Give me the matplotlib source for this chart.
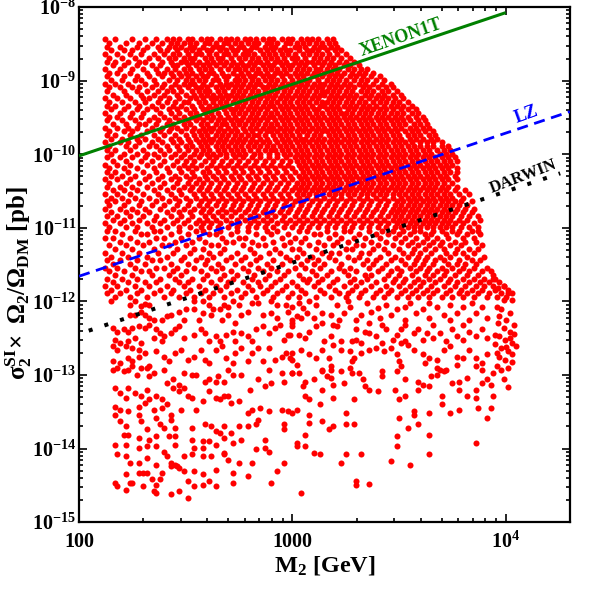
import matplotlib
matplotlib.use('Agg')
import matplotlib.pyplot as plt
import numpy as np
from matplotlib.ticker import FixedLocator, FixedFormatter, LogLocator, NullFormatter

plt.rcParams['font.family'] = ['Liberation Serif', 'DejaVu Serif']
plt.rcParams['font.weight'] = 'bold'
plt.rcParams['mathtext.fontset'] = 'custom'
plt.rcParams['mathtext.rm'] = 'Liberation Serif:bold'
plt.rcParams['mathtext.it'] = 'Liberation Serif:italic:bold'
plt.rcParams['mathtext.bf'] = 'Liberation Serif:bold'
plt.rcParams['mathtext.default'] = 'rm'

# ---------------- data (log10 M2 [GeV], log10 sigma*Omega/Omega_DM [pb]) ----------------
# dense top part of the scan, read row by row
top_rows_log_sigma = [-8.44, -8.49, -8.54, -8.59, -8.64, -8.69, -8.74, -8.79, -8.84, -8.89, -8.94,
                      -8.99, -9.04, -9.09, -9.14, -9.19, -9.24, -9.29, -9.34, -9.39, -9.44, -9.49,
                      -9.54, -9.59, -9.64, -9.69, -9.74, -9.79, -9.84, -9.89, -9.94, -9.99]
top_rows_log_m2 = [
    [2.12, 2.17, 2.25, 2.31, 2.36, 2.41, 2.44, 2.47, 2.51, 2.53, 2.57, 2.60, 2.62, 2.66, 2.69, 2.71, 2.74, 2.78, 2.80, 2.83, 2.86, 2.89, 2.91, 2.95, 2.98, 3.00, 3.04, 3.07, 3.09, 3.12, 3.16, 3.19],
    [2.14, 2.22, 2.28, 2.34, 2.39, 2.43, 2.46, 2.49, 2.52, 2.55, 2.59, 2.61, 2.64, 2.68, 2.70, 2.73, 2.76, 2.79, 2.82, 2.84, 2.88, 2.90, 2.93, 2.97, 2.99, 3.02, 3.05, 3.08, 3.11, 3.14, 3.17, 3.20],
    [2.13, 2.19, 2.27, 2.32, 2.37, 2.42, 2.45, 2.48, 2.52, 2.54, 2.58, 2.63, 2.65, 2.67, 2.71, 2.75, 2.77, 2.81, 2.83, 2.87, 2.90, 2.92, 2.96, 3.01, 3.03, 3.06, 3.10, 3.13, 3.15, 3.18, 3.21],
    [2.15, 2.21, 2.25, 2.30, 2.38, 2.41, 2.46, 2.50, 2.53, 2.56, 2.60, 2.62, 2.66, 2.69, 2.72, 2.74, 2.78, 2.80, 2.85, 2.88, 2.91, 2.94, 2.97, 2.99, 3.03, 3.07, 3.09, 3.12, 3.16, 3.20, 3.23],
    [2.12, 2.18, 2.24, 2.29, 2.35, 2.40, 2.44, 2.47, 2.51, 2.55, 2.57, 2.61, 2.64, 2.68, 2.70, 2.73, 2.77, 2.79, 2.82, 2.86, 2.89, 2.92, 2.95, 2.98, 3.01, 3.05, 3.08, 3.11, 3.14, 3.17, 3.21, 3.25],
    [2.14, 2.20, 2.26, 2.33, 2.37, 2.42, 2.45, 2.49, 2.52, 2.54, 2.59, 2.62, 2.65, 2.67, 2.71, 2.75, 2.78, 2.81, 2.84, 2.87, 2.90, 2.93, 2.96, 3.00, 3.02, 3.06, 3.10, 3.13, 3.16, 3.19, 3.23, 3.27],
    [2.13, 2.17, 2.23, 2.28, 2.31, 2.39, 2.43, 2.48, 2.50, 2.53, 2.56, 2.60, 2.63, 2.66, 2.69, 2.72, 2.76, 2.80, 2.83, 2.85, 2.88, 2.92, 2.94, 2.97, 3.01, 3.04, 3.07, 3.09, 3.12, 3.15, 3.18, 3.22, 3.25, 3.29],
    [2.16, 2.21, 2.27, 2.34, 2.38, 2.44, 2.46, 2.51, 2.55, 2.58, 2.61, 2.64, 2.68, 2.71, 2.74, 2.77, 2.79, 2.82, 2.86, 2.89, 2.91, 2.95, 2.98, 3.00, 3.03, 3.06, 3.10, 3.14, 3.17, 3.20, 3.24, 3.27, 3.31],
    [2.12, 2.19, 2.25, 2.30, 2.36, 2.41, 2.45, 2.49, 2.52, 2.56, 2.59, 2.62, 2.66, 2.70, 2.73, 2.75, 2.78, 2.81, 2.84, 2.87, 2.90, 2.93, 2.96, 2.99, 3.02, 3.05, 3.08, 3.11, 3.13, 3.16, 3.19, 3.22, 3.26, 3.29, 3.32, 3.35],
    [2.14, 2.18, 2.24, 2.32, 2.37, 2.40, 2.43, 2.47, 2.50, 2.53, 2.57, 2.61, 2.63, 2.67, 2.72, 2.76, 2.79, 2.83, 2.85, 2.88, 2.92, 2.94, 2.97, 3.01, 3.04, 3.07, 3.10, 3.12, 3.15, 3.18, 3.21, 3.24, 3.28, 3.31, 3.34, 3.38],
    [2.13, 2.21, 2.27, 2.33, 2.39, 2.44, 2.48, 2.51, 2.55, 2.58, 2.60, 2.64, 2.68, 2.70, 2.74, 2.77, 2.80, 2.82, 2.86, 2.89, 2.91, 2.95, 2.99, 3.02, 3.05, 3.09, 3.11, 3.14, 3.17, 3.20, 3.23, 3.27, 3.30, 3.33, 3.37, 3.41],
    [2.15, 2.20, 2.26, 2.29, 2.35, 2.42, 2.46, 2.50, 2.53, 2.56, 2.59, 2.63, 2.65, 2.69, 2.73, 2.75, 2.78, 2.81, 2.84, 2.87, 2.90, 2.93, 2.96, 3.00, 3.03, 3.06, 3.08, 3.12, 3.16, 3.19, 3.22, 3.25, 3.29, 3.32, 3.35, 3.39, 3.43],
    [2.12, 2.17, 2.23, 2.31, 2.36, 2.40, 2.45, 2.49, 2.52, 2.54, 2.58, 2.62, 2.66, 2.69, 2.71, 2.74, 2.77, 2.80, 2.83, 2.85, 2.89, 2.92, 2.95, 2.98, 3.01, 3.04, 3.07, 3.10, 3.13, 3.15, 3.18, 3.21, 3.24, 3.27, 3.31, 3.34, 3.38, 3.42, 3.46],
    [2.14, 2.19, 2.25, 2.28, 2.34, 2.39, 2.43, 2.47, 2.51, 2.55, 2.57, 2.60, 2.64, 2.67, 2.70, 2.73, 2.76, 2.79, 2.82, 2.86, 2.88, 2.91, 2.94, 2.97, 3.00, 3.03, 3.06, 3.09, 3.12, 3.14, 3.17, 3.20, 3.23, 3.26, 3.29, 3.33, 3.36, 3.40, 3.44, 3.47],
    [2.13, 2.21, 2.27, 2.32, 2.37, 2.41, 2.44, 2.48, 2.53, 2.56, 2.59, 2.61, 2.65, 2.68, 2.72, 2.75, 2.78, 2.81, 2.84, 2.87, 2.90, 2.93, 2.96, 2.99, 3.02, 3.05, 3.08, 3.11, 3.14, 3.16, 3.19, 3.22, 3.25, 3.28, 3.32, 3.35, 3.38, 3.42, 3.45, 3.49],
    [2.16, 2.22, 2.29, 2.35, 2.40, 2.46, 2.50, 2.54, 2.57, 2.60, 2.63, 2.66, 2.69, 2.71, 2.74, 2.77, 2.80, 2.83, 2.86, 2.89, 2.92, 2.95, 2.98, 3.01, 3.04, 3.07, 3.10, 3.13, 3.15, 3.18, 3.21, 3.24, 3.27, 3.30, 3.34, 3.37, 3.40, 3.43, 3.47, 3.51],
    [2.12, 2.18, 2.24, 2.30, 2.33, 2.38, 2.42, 2.47, 2.52, 2.55, 2.58, 2.62, 2.64, 2.67, 2.70, 2.73, 2.76, 2.79, 2.82, 2.85, 2.88, 2.91, 2.94, 2.97, 3.00, 3.03, 3.06, 3.09, 3.12, 3.17, 3.20, 3.23, 3.26, 3.29, 3.32, 3.36, 3.39, 3.42, 3.45, 3.48, 3.52],
    [2.14, 2.20, 2.26, 2.31, 2.37, 2.41, 2.45, 2.49, 2.51, 2.56, 2.59, 2.63, 2.66, 2.69, 2.72, 2.75, 2.78, 2.81, 2.84, 2.87, 2.90, 2.93, 2.96, 2.99, 3.02, 3.05, 3.08, 3.11, 3.14, 3.16, 3.19, 3.22, 3.25, 3.28, 3.31, 3.34, 3.38, 3.41, 3.44, 3.47, 3.50, 3.54],
    [2.13, 2.17, 2.23, 2.28, 2.34, 2.39, 2.44, 2.48, 2.53, 2.57, 2.61, 2.64, 2.67, 2.70, 2.74, 2.77, 2.80, 2.83, 2.86, 2.89, 2.91, 2.94, 2.97, 3.00, 3.03, 3.06, 3.09, 3.13, 3.15, 3.18, 3.21, 3.24, 3.27, 3.30, 3.33, 3.36, 3.39, 3.43, 3.46, 3.49, 3.52, 3.56],
    [2.15, 2.21, 2.27, 2.32, 2.36, 2.42, 2.46, 2.50, 2.54, 2.58, 2.60, 2.63, 2.68, 2.71, 2.73, 2.76, 2.79, 2.82, 2.85, 2.88, 2.92, 2.95, 2.98, 3.01, 3.04, 3.07, 3.10, 3.12, 3.16, 3.19, 3.22, 3.26, 3.29, 3.32, 3.35, 3.38, 3.41, 3.44, 3.47, 3.51, 3.54, 3.58],
    [2.12, 2.19, 2.25, 2.30, 2.38, 2.43, 2.47, 2.52, 2.55, 2.59, 2.62, 2.65, 2.69, 2.72, 2.75, 2.78, 2.81, 2.84, 2.87, 2.90, 2.93, 2.96, 2.99, 3.02, 3.05, 3.08, 3.11, 3.14, 3.17, 3.20, 3.23, 3.25, 3.28, 3.31, 3.34, 3.37, 3.40, 3.43, 3.46, 3.49, 3.52, 3.56, 3.59],
    [2.14, 2.18, 2.24, 2.29, 2.35, 2.40, 2.45, 2.49, 2.53, 2.56, 2.60, 2.63, 2.66, 2.70, 2.73, 2.77, 2.80, 2.83, 2.86, 2.89, 2.91, 2.94, 2.97, 3.00, 3.03, 3.06, 3.09, 3.12, 3.15, 3.18, 3.21, 3.24, 3.27, 3.30, 3.33, 3.36, 3.39, 3.42, 3.45, 3.48, 3.51, 3.54, 3.58, 3.61],
    [2.13, 2.20, 2.26, 2.33, 2.37, 2.42, 2.47, 2.51, 2.55, 2.58, 2.62, 2.65, 2.68, 2.71, 2.74, 2.76, 2.79, 2.82, 2.85, 2.88, 2.92, 2.95, 2.98, 3.01, 3.04, 3.07, 3.10, 3.13, 3.16, 3.19, 3.22, 3.25, 3.28, 3.31, 3.34, 3.37, 3.40, 3.43, 3.46, 3.49, 3.52, 3.55, 3.59, 3.62],
    [2.16, 2.22, 2.28, 2.31, 2.36, 2.41, 2.44, 2.49, 2.52, 2.57, 2.60, 2.64, 2.67, 2.69, 2.72, 2.75, 2.78, 2.81, 2.84, 2.87, 2.90, 2.93, 2.96, 2.99, 3.02, 3.05, 3.08, 3.11, 3.14, 3.17, 3.20, 3.23, 3.26, 3.29, 3.32, 3.35, 3.38, 3.41, 3.44, 3.47, 3.50, 3.53, 3.57, 3.60, 3.63],
    [2.12, 2.18, 2.23, 2.27, 2.34, 2.39, 2.43, 2.46, 2.50, 2.54, 2.58, 2.61, 2.63, 2.66, 2.70, 2.73, 2.77, 2.80, 2.83, 2.86, 2.89, 2.91, 2.94, 2.97, 3.00, 3.03, 3.06, 3.09, 3.12, 3.15, 3.18, 3.21, 3.24, 3.27, 3.30, 3.33, 3.36, 3.39, 3.42, 3.45, 3.48, 3.51, 3.55, 3.58, 3.61, 3.64],
    [2.14, 2.21, 2.25, 2.32, 2.38, 2.42, 2.48, 2.53, 2.56, 2.59, 2.62, 2.65, 2.68, 2.71, 2.74, 2.78, 2.81, 2.85, 2.88, 2.90, 2.93, 2.96, 2.99, 3.02, 3.05, 3.08, 3.11, 3.14, 3.16, 3.19, 3.22, 3.25, 3.28, 3.31, 3.34, 3.37, 3.40, 3.43, 3.46, 3.49, 3.53, 3.56, 3.59, 3.62, 3.66],
    [2.13, 2.17, 2.24, 2.29, 2.35, 2.40, 2.45, 2.50, 2.54, 2.57, 2.60, 2.64, 2.67, 2.70, 2.73, 2.76, 2.79, 2.82, 2.84, 2.87, 2.91, 2.94, 2.97, 3.00, 3.03, 3.07, 3.10, 3.13, 3.17, 3.20, 3.23, 3.26, 3.29, 3.32, 3.35, 3.38, 3.41, 3.44, 3.47, 3.50, 3.54, 3.57, 3.60, 3.64, 3.67],
    [2.15, 2.20, 2.27, 2.31, 2.37, 2.43, 2.47, 2.51, 2.55, 2.58, 2.61, 2.63, 2.66, 2.69, 2.72, 2.75, 2.78, 2.81, 2.85, 2.88, 2.92, 2.95, 2.98, 3.01, 3.04, 3.06, 3.09, 3.12, 3.15, 3.18, 3.21, 3.24, 3.27, 3.30, 3.33, 3.36, 3.39, 3.42, 3.45, 3.48, 3.51, 3.55, 3.58, 3.61, 3.65, 3.68],
    [2.12, 2.19, 2.23, 2.28, 2.34, 2.39, 2.44, 2.48, 2.52, 2.56, 2.59, 2.62, 2.65, 2.68, 2.71, 2.74, 2.77, 2.80, 2.83, 2.86, 2.89, 2.93, 2.96, 2.99, 3.02, 3.05, 3.08, 3.11, 3.14, 3.17, 3.20, 3.23, 3.26, 3.29, 3.32, 3.35, 3.38, 3.41, 3.44, 3.47, 3.50, 3.53, 3.56, 3.60, 3.63, 3.66, 3.70],
    [2.14, 2.22, 2.26, 2.33, 2.36, 2.41, 2.46, 2.50, 2.53, 2.57, 2.60, 2.64, 2.67, 2.70, 2.73, 2.76, 2.79, 2.82, 2.85, 2.88, 2.91, 2.94, 2.97, 3.00, 3.03, 3.06, 3.09, 3.12, 3.15, 3.18, 3.21, 3.24, 3.27, 3.30, 3.33, 3.36, 3.39, 3.42, 3.45, 3.48, 3.51, 3.54, 3.57, 3.60, 3.63, 3.66, 3.70, 3.73],
    [2.13, 2.17, 2.24, 2.30, 2.38, 2.42, 2.47, 2.51, 2.55, 2.58, 2.61, 2.65, 2.68, 2.71, 2.74, 2.77, 2.80, 2.84, 2.87, 2.90, 2.92, 2.95, 2.98, 3.01, 3.04, 3.07, 3.10, 3.13, 3.16, 3.19, 3.22, 3.25, 3.28, 3.31, 3.34, 3.37, 3.40, 3.43, 3.46, 3.49, 3.52, 3.55, 3.58, 3.61, 3.64, 3.68, 3.71, 3.74],
    [2.15, 2.21, 2.27, 2.32, 2.35, 2.40, 2.45, 2.49, 2.54, 2.57, 2.60, 2.63, 2.66, 2.69, 2.72, 2.75, 2.78, 2.82, 2.85, 2.89, 2.93, 2.96, 2.99, 3.02, 3.05, 3.08, 3.11, 3.14, 3.17, 3.20, 3.23, 3.26, 3.29, 3.32, 3.35, 3.38, 3.41, 3.44, 3.47, 3.50, 3.53, 3.56, 3.59, 3.62, 3.65, 3.69, 3.72, 3.75],
]

# middle part of the scan (1e-10 .. 1e-11 pb), read row by row
middle_rows_log_sigma = [-10.04, -10.09, -10.14, -10.19, -10.24, -10.29, -10.34, -10.39, -10.44, -10.49,
                         -10.54, -10.59, -10.64, -10.69, -10.74, -10.79, -10.84, -10.89, -10.94, -10.99]
middle_rows_log_m2 = [
    [2.13, 2.19, 2.25, 2.31, 2.37, 2.43, 2.48, 2.52, 2.56, 2.61, 2.64, 2.69, 2.73, 2.77, 2.81, 2.85, 2.89, 2.93, 2.97, 3.01, 3.04, 3.07, 3.10, 3.13, 3.16, 3.19, 3.22, 3.25, 3.28, 3.31, 3.34, 3.37, 3.40, 3.43, 3.46, 3.49, 3.52, 3.55, 3.58, 3.61, 3.64, 3.67, 3.70, 3.73, 3.76],
    [2.16, 2.22, 2.29, 2.34, 2.40, 2.46, 2.50, 2.54, 2.59, 2.63, 2.67, 2.71, 2.75, 2.79, 2.83, 2.87, 2.91, 2.95, 2.99, 3.02, 3.05, 3.08, 3.11, 3.14, 3.17, 3.20, 3.23, 3.26, 3.29, 3.32, 3.35, 3.38, 3.41, 3.44, 3.47, 3.50, 3.53, 3.56, 3.59, 3.62, 3.65, 3.68, 3.71, 3.74, 3.77],
    [2.12, 2.18, 2.24, 2.32, 2.38, 2.44, 2.49, 2.53, 2.57, 2.62, 2.66, 2.70, 2.74, 2.78, 2.82, 2.86, 2.90, 2.94, 2.98, 3.03, 3.06, 3.09, 3.12, 3.15, 3.18, 3.21, 3.24, 3.27, 3.30, 3.33, 3.36, 3.39, 3.42, 3.45, 3.48, 3.51, 3.54, 3.57, 3.60, 3.63, 3.66, 3.69, 3.72, 3.75],
    [2.14, 2.21, 2.27, 2.35, 2.41, 2.47, 2.51, 2.55, 2.60, 2.64, 2.68, 2.72, 2.76, 2.80, 2.84, 2.88, 2.92, 2.96, 3.00, 3.04, 3.07, 3.10, 3.13, 3.16, 3.19, 3.22, 3.25, 3.28, 3.31, 3.34, 3.37, 3.40, 3.43, 3.46, 3.49, 3.52, 3.55, 3.58, 3.61, 3.64, 3.67, 3.70, 3.73, 3.77],
    [2.13, 2.17, 2.23, 2.30, 2.36, 2.42, 2.48, 2.53, 2.58, 2.61, 2.65, 2.69, 2.73, 2.77, 2.81, 2.85, 2.89, 2.93, 2.97, 3.01, 3.05, 3.08, 3.11, 3.14, 3.17, 3.20, 3.23, 3.26, 3.29, 3.32, 3.35, 3.38, 3.41, 3.44, 3.47, 3.50, 3.53, 3.56, 3.59, 3.62, 3.65, 3.68, 3.71, 3.74, 3.77],
    [2.15, 2.20, 2.26, 2.33, 2.39, 2.45, 2.50, 2.54, 2.59, 2.63, 2.67, 2.71, 2.75, 2.79, 2.83, 2.87, 2.91, 2.95, 2.99, 3.03, 3.06, 3.09, 3.12, 3.15, 3.18, 3.21, 3.24, 3.27, 3.30, 3.33, 3.36, 3.39, 3.42, 3.45, 3.48, 3.51, 3.54, 3.57, 3.60, 3.63, 3.66, 3.69, 3.72, 3.76],
    [2.12, 2.18, 2.24, 2.31, 2.37, 2.43, 2.47, 2.52, 2.56, 2.60, 2.64, 2.68, 2.72, 2.76, 2.80, 2.84, 2.88, 2.92, 2.96, 3.00, 3.04, 3.07, 3.10, 3.13, 3.16, 3.19, 3.22, 3.25, 3.28, 3.31, 3.34, 3.37, 3.40, 3.43, 3.46, 3.49, 3.52, 3.55, 3.58, 3.61, 3.64, 3.67, 3.70, 3.73, 3.77],
    [2.14, 2.22, 2.28, 2.34, 2.40, 2.46, 2.51, 2.55, 2.58, 2.62, 2.66, 2.70, 2.74, 2.78, 2.82, 2.86, 2.90, 2.94, 2.98, 3.02, 3.05, 3.08, 3.11, 3.14, 3.17, 3.20, 3.23, 3.26, 3.29, 3.32, 3.35, 3.38, 3.41, 3.44, 3.47, 3.50, 3.53, 3.56, 3.59, 3.62, 3.65, 3.68, 3.71, 3.75],
    [2.13, 2.19, 2.25, 2.32, 2.38, 2.44, 2.49, 2.53, 2.57, 2.61, 2.65, 2.69, 2.73, 2.77, 2.81, 2.85, 2.89, 2.93, 2.97, 3.01, 3.04, 3.07, 3.10, 3.13, 3.16, 3.19, 3.22, 3.25, 3.28, 3.31, 3.34, 3.37, 3.40, 3.43, 3.46, 3.49, 3.52, 3.55, 3.58, 3.61, 3.64, 3.67, 3.70, 3.73, 3.77],
    [2.16, 2.21, 2.27, 2.35, 2.41, 2.47, 2.52, 2.56, 2.60, 2.64, 2.68, 2.72, 2.76, 2.80, 2.84, 2.88, 2.92, 2.96, 3.00, 3.03, 3.06, 3.09, 3.12, 3.15, 3.18, 3.21, 3.24, 3.27, 3.30, 3.33, 3.36, 3.39, 3.42, 3.45, 3.48, 3.51, 3.54, 3.57, 3.60, 3.63, 3.66, 3.69, 3.72, 3.76, 3.81],
    [2.12, 2.18, 2.24, 2.30, 2.37, 2.43, 2.48, 2.54, 2.58, 2.62, 2.66, 2.70, 2.74, 2.78, 2.82, 2.86, 2.90, 2.94, 2.98, 3.02, 3.05, 3.08, 3.11, 3.14, 3.17, 3.20, 3.23, 3.26, 3.29, 3.32, 3.35, 3.38, 3.41, 3.44, 3.47, 3.50, 3.53, 3.56, 3.59, 3.62, 3.65, 3.68, 3.71, 3.74, 3.78, 3.83],
    [2.15, 2.20, 2.26, 2.33, 2.39, 2.45, 2.50, 2.55, 2.59, 2.63, 2.67, 2.71, 2.75, 2.79, 2.83, 2.87, 2.91, 2.95, 2.99, 3.03, 3.07, 3.11, 3.15, 3.19, 3.23, 3.27, 3.31, 3.35, 3.39, 3.43, 3.47, 3.51, 3.54, 3.57, 3.60, 3.63, 3.66, 3.69, 3.72, 3.75, 3.80],
    [2.13, 2.17, 2.23, 2.29, 2.36, 2.42, 2.47, 2.52, 2.57, 2.61, 2.65, 2.69, 2.73, 2.77, 2.81, 2.85, 2.89, 2.93, 2.97, 3.01, 3.05, 3.09, 3.13, 3.17, 3.21, 3.25, 3.29, 3.33, 3.37, 3.41, 3.45, 3.49, 3.52, 3.55, 3.58, 3.61, 3.64, 3.67, 3.70, 3.73, 3.76, 3.79, 3.84],
    [2.14, 2.21, 2.28, 2.34, 2.40, 2.46, 2.51, 2.56, 2.60, 2.64, 2.68, 2.72, 2.76, 2.80, 2.84, 2.88, 2.92, 2.96, 3.00, 3.04, 3.08, 3.12, 3.16, 3.20, 3.24, 3.28, 3.32, 3.36, 3.40, 3.44, 3.48, 3.51, 3.54, 3.57, 3.60, 3.63, 3.66, 3.69, 3.72, 3.75, 3.78, 3.82],
    [2.12, 2.19, 2.25, 2.31, 2.38, 2.44, 2.49, 2.54, 2.58, 2.62, 2.67, 2.71, 2.75, 2.79, 2.83, 2.87, 2.91, 2.95, 2.99, 3.03, 3.07, 3.11, 3.15, 3.19, 3.23, 3.27, 3.31, 3.35, 3.39, 3.43, 3.47, 3.50, 3.53, 3.56, 3.59, 3.62, 3.65, 3.68, 3.71, 3.74, 3.77, 3.81, 3.85],
    [2.15, 2.22, 2.27, 2.33, 2.41, 2.47, 2.52, 2.57, 2.61, 2.65, 2.69, 2.73, 2.78, 2.82, 2.86, 2.90, 2.94, 2.98, 3.02, 3.06, 3.10, 3.14, 3.18, 3.22, 3.26, 3.30, 3.34, 3.38, 3.42, 3.46, 3.49, 3.52, 3.55, 3.58, 3.61, 3.64, 3.67, 3.70, 3.73, 3.76, 3.80, 3.84],
    [2.13, 2.18, 2.24, 2.30, 2.36, 2.43, 2.48, 2.53, 2.59, 2.63, 2.67, 2.71, 2.76, 2.80, 2.84, 2.88, 2.92, 2.96, 3.01, 3.05, 3.09, 3.13, 3.17, 3.21, 3.25, 3.29, 3.33, 3.37, 3.41, 3.45, 3.48, 3.51, 3.54, 3.57, 3.60, 3.63, 3.66, 3.69, 3.72, 3.75, 3.79, 3.83, 3.87],
    [2.16, 2.21, 2.28, 2.35, 2.40, 2.46, 2.51, 2.56, 2.60, 2.64, 2.69, 2.74, 2.78, 2.82, 2.86, 2.90, 2.95, 2.99, 3.03, 3.07, 3.11, 3.15, 3.19, 3.23, 3.27, 3.31, 3.35, 3.39, 3.43, 3.47, 3.50, 3.53, 3.56, 3.59, 3.62, 3.65, 3.68, 3.71, 3.74, 3.78, 3.82, 3.88],
    [2.12, 2.19, 2.25, 2.32, 2.38, 2.44, 2.49, 2.55, 2.58, 2.62, 2.66, 2.71, 2.75, 2.80, 2.84, 2.88, 2.93, 2.97, 3.01, 3.05, 3.09, 3.13, 3.17, 3.21, 3.25, 3.29, 3.33, 3.37, 3.41, 3.45, 3.49, 3.52, 3.55, 3.58, 3.61, 3.64, 3.67, 3.70, 3.73, 3.76, 3.80, 3.85],
    [2.14, 2.22, 2.27, 2.34, 2.41, 2.47, 2.52, 2.57, 2.61, 2.65, 2.70, 2.74, 2.79, 2.83, 2.87, 2.91, 2.96, 3.00, 3.04, 3.08, 3.12, 3.16, 3.20, 3.24, 3.28, 3.32, 3.36, 3.40, 3.44, 3.48, 3.51, 3.54, 3.57, 3.60, 3.63, 3.66, 3.69, 3.72, 3.75, 3.79, 3.83, 3.87],
]

# sparser part of the scan (1e-11 .. 1e-12 pb), read row by row
lower_rows_log_sigma = [-11.04, -11.09, -11.14, -11.19, -11.24, -11.29, -11.34, -11.39, -11.44, -11.49,
                        -11.54, -11.59, -11.64, -11.69, -11.74, -11.79, -11.84, -11.89, -11.94]
lower_rows_log_m2 = [
    [2.13, 2.17, 2.26, 2.35, 2.38, 2.47, 2.55, 2.58, 2.66, 2.74, 2.79, 2.88, 2.93, 3.03, 3.07, 3.16, 3.24, 3.27, 3.36, 3.42, 3.47, 3.52, 3.57, 3.60, 3.66, 3.70, 3.75, 3.78, 3.84, 3.87],
    [2.20, 2.29, 2.32, 2.43, 2.51, 2.61, 2.64, 2.71, 2.83, 2.90, 2.98, 3.10, 3.13, 3.20, 3.31, 3.39, 3.45, 3.50, 3.55, 3.62, 3.65, 3.72, 3.77, 3.82, 3.88],
    [2.12, 2.16, 2.24, 2.36, 2.40, 2.48, 2.56, 2.67, 2.75, 2.78, 2.86, 2.95, 3.01, 3.06, 3.17, 3.23, 3.29, 3.34, 3.41, 3.48, 3.53, 3.58, 3.63, 3.68, 3.73, 3.80, 3.85],
    [2.19, 2.27, 2.33, 2.45, 2.53, 2.59, 2.69, 2.72, 2.81, 2.91, 2.99, 3.04, 3.12, 3.21, 3.26, 3.37, 3.44, 3.51, 3.56, 3.61, 3.66, 3.70, 3.76, 3.81, 3.86],
    [2.14, 2.22, 2.30, 2.39, 2.42, 2.50, 2.62, 2.65, 2.77, 2.84, 2.87, 2.96, 3.08, 3.15, 3.19, 3.30, 3.33, 3.40, 3.47, 3.54, 3.59, 3.64, 3.69, 3.74, 3.79, 3.89],
    [2.17, 2.25, 2.35, 2.46, 2.54, 2.58, 2.68, 2.80, 2.92, 3.00, 3.03, 3.11, 3.25, 3.28, 3.38, 3.43, 3.50, 3.57, 3.62, 3.67, 3.71, 3.77, 3.83, 3.87],
    [2.12, 2.20, 2.28, 2.37, 2.44, 2.52, 2.61, 2.66, 2.74, 2.82, 2.89, 2.94, 3.05, 3.14, 3.18, 3.22, 3.32, 3.36, 3.45, 3.52, 3.56, 3.60, 3.65, 3.72, 3.76, 3.80, 3.85],
    [2.15, 2.23, 2.32, 2.41, 2.49, 2.57, 2.63, 2.71, 2.78, 2.85, 2.97, 3.02, 3.09, 3.17, 3.26, 3.31, 3.41, 3.48, 3.54, 3.59, 3.63, 3.69, 3.74, 3.82, 3.90],
    [2.13, 2.19, 2.27, 2.34, 2.38, 2.48, 2.55, 2.60, 2.69, 2.76, 2.83, 2.91, 2.99, 3.07, 3.12, 3.20, 3.29, 3.35, 3.39, 3.46, 3.51, 3.58, 3.62, 3.67, 3.71, 3.78, 3.84, 3.88],
    [2.16, 2.24, 2.31, 2.43, 2.51, 2.59, 2.65, 2.73, 2.80, 2.88, 2.95, 3.04, 3.10, 3.15, 3.23, 3.33, 3.38, 3.44, 3.53, 3.57, 3.61, 3.66, 3.73, 3.77, 3.81, 3.86],
    [2.12, 2.18, 2.26, 2.36, 2.40, 2.46, 2.54, 2.62, 2.67, 2.77, 2.84, 2.90, 3.01, 3.06, 3.13, 3.22, 3.27, 3.36, 3.42, 3.49, 3.55, 3.60, 3.64, 3.70, 3.75, 3.80, 3.85, 3.91],
    [2.14, 2.21, 2.29, 2.33, 2.44, 2.50, 2.57, 2.64, 2.71, 2.79, 2.86, 2.93, 2.98, 3.09, 3.18, 3.24, 3.30, 3.40, 3.46, 3.51, 3.58, 3.63, 3.68, 3.72, 3.78, 3.83, 3.89, 3.93],
    [2.17, 2.25, 2.34, 2.42, 2.48, 2.60, 2.68, 2.74, 2.82, 2.89, 2.96, 3.03, 3.11, 3.16, 3.26, 3.34, 3.37, 3.45, 3.50, 3.56, 3.62, 3.66, 3.71, 3.76, 3.82, 3.87, 3.94],
    [2.13, 2.20, 2.27, 2.38, 2.45, 2.53, 2.58, 2.66, 2.72, 2.81, 2.87, 2.94, 3.05, 3.08, 3.14, 3.21, 3.29, 3.35, 3.43, 3.48, 3.53, 3.59, 3.64, 3.69, 3.74, 3.80, 3.85, 3.90, 3.95],
    [2.16, 2.23, 2.31, 2.36, 2.47, 2.51, 2.62, 2.70, 2.77, 2.84, 2.92, 3.00, 3.07, 3.12, 3.19, 3.27, 3.32, 3.39, 3.47, 3.52, 3.57, 3.61, 3.67, 3.73, 3.77, 3.83, 3.88, 3.92, 3.97],
    [2.12, 2.18, 2.26, 2.33, 2.41, 2.49, 2.56, 2.64, 2.69, 2.79, 2.85, 2.90, 2.97, 3.02, 3.10, 3.17, 3.24, 3.30, 3.37, 3.44, 3.50, 3.55, 3.60, 3.65, 3.71, 3.76, 3.81, 3.86, 3.90, 3.94, 3.99],
    [2.15, 2.22, 2.29, 2.38, 2.44, 2.52, 2.59, 2.66, 2.74, 2.81, 2.88, 2.95, 3.04, 3.13, 3.20, 3.28, 3.34, 3.41, 3.46, 3.53, 3.58, 3.63, 3.68, 3.74, 3.79, 3.84, 3.89, 3.95, 4.01],
    [2.13, 2.19, 2.27, 2.35, 2.43, 2.50, 2.57, 2.63, 2.71, 2.78, 2.86, 2.93, 3.00, 3.06, 3.15, 3.22, 3.26, 3.32, 3.39, 3.45, 3.51, 3.56, 3.61, 3.66, 3.72, 3.78, 3.82, 3.87, 3.92, 3.98, 4.03],
    [2.17, 2.24, 2.32, 2.40, 2.47, 2.54, 2.61, 2.68, 2.76, 2.83, 2.91, 2.98, 3.03, 3.11, 3.18, 3.25, 3.31, 3.38, 3.43, 3.49, 3.54, 3.59, 3.64, 3.70, 3.75, 3.80, 3.85, 3.91, 3.96, 4.00],
]

# sparse bottom part of the scan, point by point (log10 M2, log10 sigma)
bottom_left_points = [
    (2.15,-12.00),(2.24,-12.05),(2.26,-12.00),(2.29,-12.06),(2.31,-12.03),(2.33,-12.05),(2.29,-12.15),(2.31,-12.18),(2.26,-12.18),(2.24,-12.18),(2.33,-12.23),(2.35,-12.25),(2.39,-12.25),(2.41,-12.20),(2.43,-12.18),(2.47,-12.14),(2.50,-12.11),(2.49,-12.25),(2.54,-12.00),(2.58,-12.00),(2.54,-12.11),(2.58,-12.16),(2.61,-12.05),(2.63,-12.11),(2.62,-12.18),(2.66,-12.11),(2.68,-12.05),(2.70,-12.07),(2.72,-12.00),(2.75,-12.05),(2.76,-12.18),(2.79,-12.14),(2.81,-12.02),(2.84,-12.02),(2.86,-12.18),(2.90,-12.00),(2.90,-12.16),(2.93,-12.05),(2.93,-12.23),(2.97,-12.05),(2.98,-12.14),(3.00,-12.25),(2.70,-12.18),(2.73,-12.29),(2.67,-12.25),(2.56,-12.25),
    (2.16,-12.36),(2.18,-12.41),(2.21,-12.38),(2.23,-12.41),(2.25,-12.36),(2.28,-12.34),(2.31,-12.36),(2.33,-12.32),(2.36,-12.38),(2.38,-12.43),(2.40,-12.47),(2.43,-12.43),(2.45,-12.38),(2.49,-12.50),(2.47,-12.34),(2.54,-12.45),(2.57,-12.38),(2.59,-12.43),(2.61,-12.54),(2.64,-12.47),(2.66,-12.54),(2.69,-12.45),(2.72,-12.41),(2.73,-12.54),(2.76,-12.43),(2.79,-12.47),(2.81,-12.54),(2.83,-12.38),(2.86,-12.34),(2.89,-12.43),(2.92,-12.36),(2.94,-12.32),(2.96,-12.52),(2.98,-12.45),(3.00,-12.34),(2.17,-12.52),(2.19,-12.57),(2.23,-12.54),(2.26,-12.50),(2.29,-12.57),(2.35,-12.50),(2.39,-12.54),
    (2.16,-12.61),(2.18,-12.66),(2.22,-12.61),(2.25,-12.63),(2.28,-12.66),(2.31,-12.70),(2.36,-12.68),(2.40,-12.75),(2.42,-12.81),(2.45,-12.70),(2.48,-12.66),(2.51,-12.79),(2.54,-12.75),(2.57,-12.66),(2.59,-12.79),(2.61,-12.84),(2.64,-12.66),(2.67,-12.61),(2.69,-12.77),(2.72,-12.84),(2.73,-12.70),(2.76,-12.63),(2.79,-12.81),(2.81,-12.70),(2.84,-12.63),(2.86,-12.81),(2.89,-12.63),(2.92,-12.79),(2.95,-12.75),(2.97,-12.70),(3.00,-12.79),(2.16,-12.81),(2.19,-12.84),(2.23,-12.77),(2.25,-12.81),(2.28,-12.75),(2.33,-12.88),
    (2.16,-12.93),(2.18,-12.90),(2.21,-12.95),(2.23,-12.93),(2.25,-12.88),(2.27,-13.00),(2.29,-12.90),(2.32,-12.90),(2.33,-13.02),(2.35,-12.97),(2.40,-12.93),(2.41,-13.11),(2.44,-13.06),(2.47,-13.13),(2.49,-12.97),(2.53,-13.00),(2.55,-13.00),(2.59,-13.09),(2.61,-13.06),(2.64,-13.09),(2.65,-13.02),(2.68,-13.09),(2.70,-12.93),(2.72,-13.00),(2.76,-13.00),(2.80,-13.20),(2.84,-13.06),(2.87,-13.15),(2.89,-12.93),(2.90,-13.11),(2.96,-13.09),(2.95,-12.97),(3.00,-12.97),
    (2.17,-13.18),(2.19,-13.24),(2.22,-13.31),(2.23,-13.18),(2.26,-13.24),(2.29,-13.29),(2.32,-13.20),(2.33,-13.33),(2.36,-13.29),(2.39,-13.33),(2.41,-13.40),(2.44,-13.18),(2.47,-13.22),(2.49,-13.18),(2.51,-13.29),(2.53,-13.31),(2.55,-13.47),(2.58,-13.36),(2.61,-13.22),(2.64,-13.31),(2.66,-13.33),(2.68,-13.29),(2.70,-13.29),(2.71,-13.38),(2.75,-13.36),(2.79,-13.52),(2.81,-13.47),(2.84,-13.61),(2.85,-13.45),(2.89,-13.49),(2.95,-13.47),(2.98,-13.49),(2.17,-13.43),(2.19,-13.47),(2.23,-13.49),(2.28,-13.43),(2.31,-13.38),(2.35,-13.47),(2.39,-13.45),(2.43,-13.54),
    (2.17,-13.54),(2.19,-13.63),(2.22,-13.70),(2.28,-13.54),(2.29,-13.63),(2.32,-13.74),(2.36,-13.58),(2.38,-13.67),(2.40,-13.72),(2.43,-13.61),(2.45,-13.72),(2.48,-13.47),(2.53,-13.72),(2.59,-13.67),(2.62,-13.70),(2.64,-13.76),(2.66,-13.79),(2.68,-13.70),(2.71,-13.79),(2.75,-13.70),(2.79,-13.70),(2.83,-13.67),(2.87,-13.88),(2.96,-13.67),(2.96,-13.74),(2.23,-13.81),(2.21,-13.81),(2.28,-13.86),(2.33,-13.88),(2.36,-13.83),(2.42,-13.83),(2.45,-13.83),(2.53,-13.88),(2.58,-13.90),(2.61,-13.90),(2.68,-13.86),(2.72,-13.92),(2.76,-13.88),
    (2.17,-13.95),(2.22,-13.95),(2.28,-13.99),(2.32,-13.97),(2.36,-13.97),(2.40,-14.04),(2.45,-13.95),(2.54,-13.99),(2.58,-13.99),(2.64,-13.95),(2.68,-14.06),(2.70,-14.15),(2.75,-14.19),(2.81,-14.19),(2.83,-14.01),(2.87,-13.99),(2.89,-14.04),(2.96,-14.19),(2.18,-14.08),(2.22,-14.10),(2.24,-14.19),(2.28,-14.19),(2.32,-14.13),(2.36,-14.22),(2.41,-14.10),(2.43,-14.19),(2.46,-14.24),(2.49,-14.10),(2.53,-14.08),(2.58,-14.10),(2.62,-14.10),(2.68,-14.08),
    (2.17,-14.47),(2.18,-14.51),(2.22,-14.35),(2.24,-14.47),(2.22,-14.56),(2.25,-14.47),(2.28,-14.33),(2.30,-14.33),(2.32,-14.33),(2.30,-14.51),(2.34,-14.42),(2.35,-14.58),(2.36,-14.49),(2.39,-14.33),(2.38,-14.42),(2.36,-14.60),(2.43,-14.24),(2.45,-14.22),(2.47,-14.26),(2.49,-14.31),(2.47,-14.58),(2.51,-14.44),(2.54,-14.31),(2.54,-14.51),(2.51,-14.67),(2.58,-14.35),(2.61,-14.44),(2.58,-14.49),(2.64,-14.29),(2.64,-14.51),(2.72,-14.33),(2.72,-14.47),(2.79,-14.37),(2.90,-14.47),(2.93,-14.31),(2.43,-14.62),
]

bottom_right_points = [
    (3.00,-12.07),(3.03,-12.02),(3.05,-12.09),(3.08,-12.00),(3.11,-12.05),(3.07,-12.16),(3.04,-12.23),(3.02,-12.20),(3.00,-12.29),(3.10,-12.23),(3.14,-12.16),(3.18,-12.18),(3.21,-12.05),(3.24,-12.16),(3.26,-12.00),(3.27,-12.07),(3.30,-12.25),(3.32,-12.18),(3.35,-12.02),(3.37,-12.14),(3.40,-12.09),(3.44,-12.05),(3.46,-12.18),(3.49,-12.11),(3.53,-12.07),(3.55,-12.02),(3.58,-12.16),(3.61,-12.11),(3.64,-12.02),(3.68,-12.07),(3.71,-12.18),(3.74,-12.05),(3.77,-12.16),(3.80,-12.07),(3.84,-12.02),(3.86,-12.16),(3.89,-12.07),(3.91,-12.23),(3.83,-12.25),(3.74,-12.25),(3.64,-12.23),(3.53,-12.25),(3.41,-12.23),(3.36,-12.29),(3.22,-12.25),(3.19,-12.32),(3.14,-12.29),
    (2.99,-12.45),(3.03,-12.45),(3.06,-12.50),(3.08,-12.41),(3.11,-12.34),(3.15,-12.54),(3.18,-12.47),(3.21,-12.34),(3.23,-12.54),(3.28,-12.54),(3.30,-12.52),(3.32,-12.57),(3.34,-12.41),(3.36,-12.43),(3.39,-12.47),(3.42,-12.57),(3.44,-12.38),(3.47,-12.52),(3.49,-12.45),(3.51,-12.38),(3.53,-12.54),(3.57,-12.43),(3.59,-12.38),(3.61,-12.52),(3.63,-12.43),(3.66,-12.50),(3.69,-12.43),(3.72,-12.54),(3.75,-12.38),(3.77,-12.47),(3.80,-12.52),(3.83,-12.41),(3.86,-12.47),(3.89,-12.38),(3.91,-12.50),(3.53,-12.32),(3.66,-12.32),(3.80,-12.32),(3.42,-12.32),(3.30,-12.38),
    (3.00,-12.70),(3.04,-12.66),(3.08,-12.72),(3.11,-12.77),(3.14,-12.66),(3.17,-12.77),(3.19,-12.59),(3.23,-12.66),(3.27,-12.68),(3.29,-12.77),(3.32,-12.70),(3.36,-12.66),(3.39,-12.63),(3.43,-12.68),(3.46,-12.63),(3.49,-12.72),(3.51,-12.57),(3.54,-12.59),(3.57,-12.66),(3.61,-12.72),(3.62,-12.84),(3.64,-12.77),(3.68,-12.79),(3.71,-12.66),(3.74,-12.61),(3.77,-12.86),(3.80,-12.77),(3.83,-12.66),(3.86,-12.77),(3.89,-12.84),(3.91,-12.72),(2.99,-12.77),(3.02,-12.86),(3.68,-12.90),(3.72,-12.93),(3.77,-12.75),(3.86,-12.88),(3.89,-12.93),(3.50,-12.81),(3.51,-12.88),(3.28,-12.81),(3.18,-12.88),(3.14,-12.93),(3.03,-12.97),
    (3.00,-12.97),(3.06,-13.09),(3.10,-13.06),(3.05,-13.15),(3.06,-13.29),(3.08,-13.33),(3.14,-12.95),(3.18,-12.93),(3.16,-13.02),(3.18,-13.04),(3.14,-13.20),(3.19,-13.13),(3.19,-13.31),(3.23,-12.95),(3.24,-13.11),(3.27,-12.90),(3.28,-12.97),(3.31,-12.97),(3.33,-13.06),(3.34,-13.15),(3.36,-13.20),(3.40,-13.22),(3.42,-12.95),(3.42,-13.02),(3.48,-13.20),(3.50,-13.33),(3.49,-12.95),(3.53,-13.06),(3.53,-13.29),(3.59,-13.09),(3.59,-13.20),(3.61,-13.13),(3.64,-13.15),(3.65,-13.02),(3.68,-13.00),(3.69,-12.93),(3.71,-12.95),(3.75,-13.11),(3.78,-13.20),(3.78,-13.09),(3.82,-13.04),(3.82,-13.29),(3.86,-13.20),(3.86,-13.31),(3.89,-13.11),(3.91,-13.06),(3.70,-13.29),(3.70,-13.40),(3.29,-13.33),
    (3.00,-13.52),(3.02,-13.47),(3.08,-13.54),(3.08,-13.65),(3.13,-13.40),(3.14,-13.63),(3.17,-13.74),(3.19,-13.70),(3.25,-13.52),(3.25,-13.67),(3.29,-13.67),(3.50,-13.58),(3.57,-13.49),(3.57,-13.54),(3.54,-13.72),(3.59,-13.67),(3.64,-13.52),(3.74,-13.52),(3.78,-13.47),(3.87,-13.45),(3.91,-13.58),(3.49,-13.83),(3.64,-13.81),(3.06,-13.81),(3.02,-13.92),(3.02,-13.97),
    (3.06,-13.97),(3.10,-14.06),(3.13,-14.08),(3.25,-14.08),(3.32,-14.08),(3.23,-14.20),(3.49,-13.97),(3.46,-14.17),(3.55,-14.22),(3.64,-14.08),(3.86,-13.92),(3.30,-14.44),(3.30,-14.49),(3.36,-14.48),(3.04,-14.61),
]

far_right_points = [
    (3.94,-11.70),(3.965,-11.82),(3.99,-11.79),(4.01,-11.89),(4.03,-11.98),(3.99,-11.98),(3.96,-12.07),(3.98,-12.11),(4.02,-12.16),(4.00,-12.25),(4.04,-12.32),(3.965,-12.29),(3.99,-12.36),(4.02,-12.41),(3.97,-12.47),(3.995,-12.52),(4.03,-12.56),(4.05,-12.61),(3.98,-12.63),(4.01,-12.68),(3.97,-12.75),(3.995,-12.79),(4.03,-12.83),(3.96,-12.88),(3.98,-12.93),(4.01,-12.90),(3.94,-12.97),(3.99,-13.06),(4.01,-13.17),(3.93,-13.13),(3.94,-13.29),(3.93,-13.45),
    (3.95,-12.45),(4.00,-12.62),(3.96,-12.70),(4.03,-12.72),(4.02,-12.50),(3.97,-12.20),(4.04,-12.44),(3.95,-12.58),
]

# experimental limits (M2 in GeV, sigma in pb)
xenon1t_m2 = [100, 10000]
xenon1t_sigma = [9.5e-11, 8.4e-9]
lz_m2 = [100, 20000]
lz_sigma = [2.2e-12, 3.8e-10]
darwin_m2 = [111, 18000]
darwin_sigma = [4.0e-13, 5.5e-11]

x_ticks = [100, 1000, 10000]
x_tick_labels = ['100', '1000', r'$10^4$']
y_ticks = [1e-15, 1e-14, 1e-13, 1e-12, 1e-11, 1e-10, 1e-9, 1e-8]
y_tick_labels = [r'$10^{-15}$', r'$10^{-14}$', r'$10^{-13}$', r'$10^{-12}$',
                 r'$10^{-11}$', r'$10^{-10}$', r'$10^{-9}$', r'$10^{-8}$']

# ---------------- assemble points ----------------
lg_m, lg_s = [], []
for rows_s, rows_m in ((top_rows_log_sigma, top_rows_log_m2),
                       (middle_rows_log_sigma, middle_rows_log_m2),
                       (lower_rows_log_sigma, lower_rows_log_m2)):
    for s, ms in zip(rows_s, rows_m):
        for m in ms:
            lg_m.append(m)
            lg_s.append(s)
for pts in (bottom_left_points, bottom_right_points, far_right_points):
    for m, s in pts:
        lg_m.append(m)
        lg_s.append(s)
m2_values = np.power(10.0, lg_m)
sigma_values = np.power(10.0, lg_s)

# ---------------- figure ----------------
fig = plt.figure(figsize=(5.9, 5.9), dpi=100)
ax = fig.add_axes([0.134, 0.115, 0.832, 0.873])

ax.scatter(m2_values, sigma_values, s=19, c='#ff0000', linewidths=0, zorder=2)

ax.plot(xenon1t_m2, xenon1t_sigma, color='#008000', lw=2.2, zorder=3, solid_capstyle='butt')
ax.plot(lz_m2, lz_sigma, color='#0000ff', lw=2.0, dashes=(4, 2.4), zorder=3)
ax.plot(darwin_m2, darwin_sigma, color='black', lw=2.9, dashes=(1, 3.1),
        dash_capstyle='butt', zorder=3)

ax.text(3220, 3.83e-9, 'XENON1T', color='#008000', fontsize=13, fontweight='bold',
        rotation=19, ha='center', va='center', zorder=4)
ax.text(12500, 3.44e-10, 'LZ', color='#0000ff', fontsize=13, fontweight='bold',
        rotation=20, ha='center', va='center', zorder=4)
ax.text(12050, 5.0e-11, 'DARWIN', color='black', fontsize=12, fontweight='bold',
        rotation=21, ha='center', va='center', zorder=4)

ax.set_xscale('log')
ax.set_yscale('log')
ax.set_xlim(100, 20000)
ax.set_ylim(1e-15, 1e-8)

ax.xaxis.set_major_locator(FixedLocator(x_ticks))
ax.xaxis.set_major_formatter(FixedFormatter(x_tick_labels))
ax.yaxis.set_major_locator(FixedLocator(y_ticks))
ax.yaxis.set_major_formatter(FixedFormatter(y_tick_labels))
ax.xaxis.set_minor_locator(LogLocator(base=10, subs=np.arange(2, 10), numticks=20))
ax.yaxis.set_minor_locator(LogLocator(base=10, subs=np.arange(2, 10), numticks=20))
ax.xaxis.set_minor_formatter(NullFormatter())
ax.yaxis.set_minor_formatter(NullFormatter())

ax.tick_params(which='both', direction='in', top=True, right=True, width=1.2, labelsize=14.5)
ax.tick_params(which='major', length=6)
ax.tick_params(which='minor', length=3)
ax.tick_params(axis='x', which='major', pad=7)
ax.tick_params(axis='y', which='major', pad=2)
for lab in ax.get_xticklabels() + ax.get_yticklabels():
    lab.set_fontweight('bold')
for sp in ax.spines.values():
    sp.set_linewidth(1.6)

ax.set_xlabel(r'M$_2$ [GeV]', fontsize=17.5, fontweight='bold')
ax.set_ylabel(r'$\sigma_2^{\mathrm{SI}}\!\times\ \Omega_2/\Omega_{\mathrm{DM}}$ [pb]',
              fontsize=18, fontweight='bold')
ax.xaxis.set_label_coords(0.5, -0.062)
ax.yaxis.set_label_coords(-0.091, 0.464)

fig.savefig('out.png', dpi=100)
